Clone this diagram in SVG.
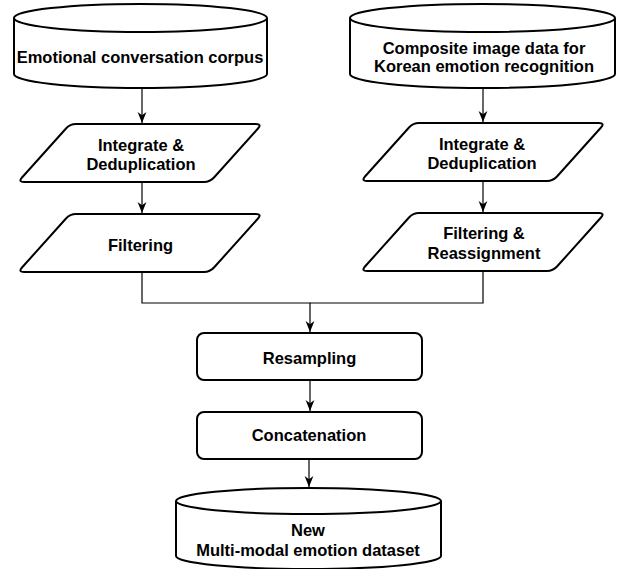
<svg xmlns="http://www.w3.org/2000/svg" width="621" height="569" viewBox="0 0 621 569">
<style>
.shape{fill:#fff;stroke:#000;stroke-width:2;stroke-linejoin:round}
.conn{fill:none;stroke:#000;stroke-width:1.2}
.lbl{font-family:"Liberation Sans",Arial,Helvetica,sans-serif;font-weight:bold;font-size:16.5px;fill:#000;text-anchor:middle}
</style>
<defs>
<marker id="arr" markerUnits="userSpaceOnUse" markerWidth="11" markerHeight="11" viewBox="0 0 10 10" refX="10" refY="5" orient="auto">
<path d="M0,1 L10,5 L0,9 L3,5 Z" fill="#000"/>
</marker>
<path id="para" d="M4,53.53 L48,4.47 Q52,0 58,0 L238,0 Q244,0 240,4.47 L196,53.53 Q192,58 186,58 L6,58 Q0,58 4,53.53 Z"/>
</defs>
<g id="connectors">
<path class="conn" d="M142,88 L142,123" marker-end="url(#arr)"/>
<path class="conn" d="M142,182 L142,213" marker-end="url(#arr)"/>
<path class="conn" d="M483,88 L483,122" marker-end="url(#arr)"/>
<path class="conn" d="M483,181 L483,212" marker-end="url(#arr)"/>
<path class="conn" d="M142,272 L142,303 L310,303 L310,332" marker-end="url(#arr)"/>
<path class="conn" d="M483,271 L483,303 L310,303"/>
<path class="conn" d="M310,381 L310,411" marker-end="url(#arr)"/>
<path class="conn" d="M309,459 L309,487" marker-end="url(#arr)"/>
</g>
<g id="corpus">
<path class="shape" d="M14,18 L14,74 A126.5,14 0 0 0 267,74 L267,18"/>
<ellipse class="shape" cx="140.5" cy="18" rx="126.5" ry="14"/>
<text class="lbl" x="140" y="62.5">Emotional conversation corpus</text>
</g>
<g id="composite">
<path class="shape" d="M350,18 L350,74 A132.5,14 0 0 0 615,74 L615,18"/>
<ellipse class="shape" cx="482.5" cy="18" rx="132.5" ry="14"/>
<text class="lbl" x="484" y="53.5">Composite image data for</text>
<text class="lbl" x="484" y="71.5">Korean emotion recognition</text>
</g>
<g id="left-integrate">
<use href="#para" class="shape" transform="translate(18,124)"/>
<text class="lbl" x="141" y="150.5">Integrate &amp;</text>
<text class="lbl" x="141" y="169.5">Deduplication</text>
</g>
<g id="left-filtering">
<use href="#para" class="shape" transform="translate(18,214)"/>
<text class="lbl" x="140.5" y="250.5">Filtering</text>
</g>
<g id="right-integrate">
<use href="#para" class="shape" transform="translate(361,123)"/>
<text class="lbl" x="482" y="149.5">Integrate &amp;</text>
<text class="lbl" x="482" y="168.5">Deduplication</text>
</g>
<g id="right-filtering">
<use href="#para" class="shape" transform="translate(361,213)"/>
<text class="lbl" x="484" y="238.5">Filtering &amp;</text>
<text class="lbl" x="484" y="258.5">Reassignment</text>
</g>
<g id="resampling">
<rect class="shape" x="197" y="333" width="225" height="47" rx="7"/>
<text class="lbl" x="309.5" y="363.5">Resampling</text>
</g>
<g id="concatenation">
<rect class="shape" x="197" y="412" width="225" height="47" rx="7"/>
<text class="lbl" x="309" y="440.5">Concatenation</text>
</g>
<g id="dataset">
<path class="shape" d="M176,501 L176,556 A132.5,13 0 0 0 441,556 L441,501"/>
<ellipse class="shape" cx="308.5" cy="501" rx="132.5" ry="13"/>
<text class="lbl" x="308" y="535.5">New</text>
<text class="lbl" x="308" y="555.5">Multi-modal emotion dataset</text>
</g>
</svg>
